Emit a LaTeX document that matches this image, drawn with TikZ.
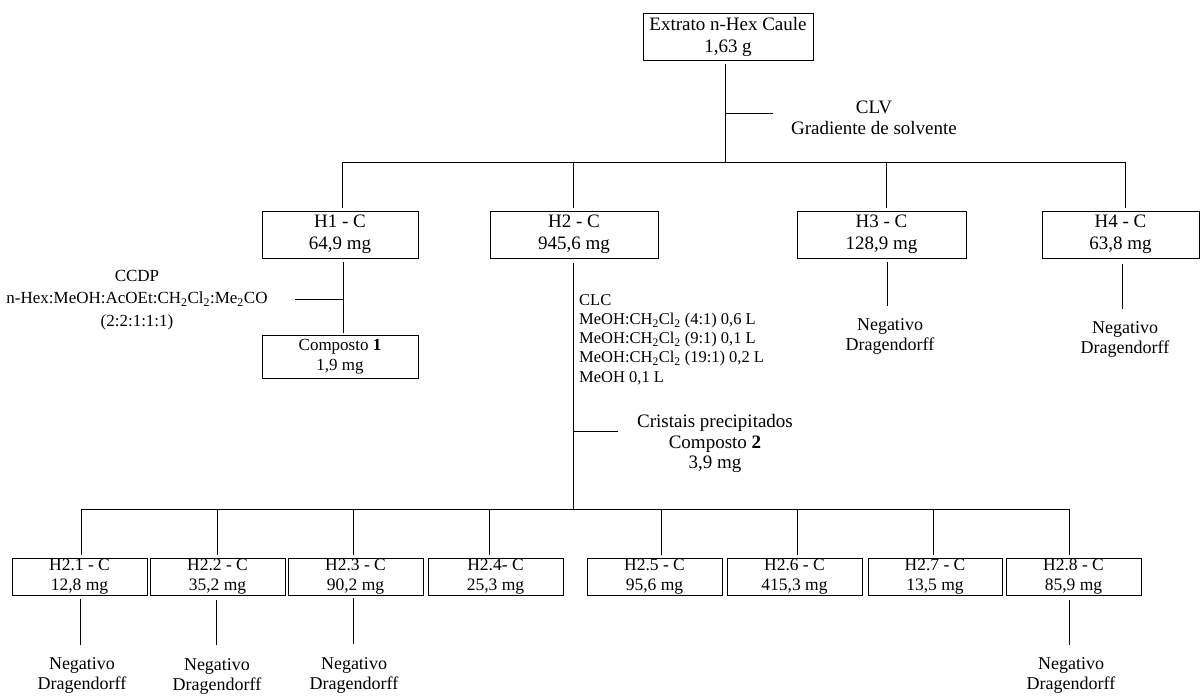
\documentclass[tikz,border=0pt]{standalone}
\usepackage{fontspec}
\setmainfont{Liberation Serif}
\begin{document}
\begin{tikzpicture}[x=1pt,y=-1pt,
  ln/.style={line width=1pt},
  box/.style={draw, line width=1pt, inner sep=0pt, align=center},
  topbox/.style={box, minimum height=47pt, font=\fontsize{19}{22}\selectfont},
  smallbox/.style={box, minimum width=135pt, minimum height=37pt, font=\fontsize{17.5}{20}\selectfont},
  lbl/.style={inner sep=0pt, align=center},
  neg/.style={lbl, font=\fontsize{18}{20}\selectfont}]
\useasboundingbox (0,0) rectangle (1200,696);

% top
\node[topbox, minimum width=170pt] (top) at (728,36.5) {Extrato n-Hex Caule\\1,63 g};
\coordinate (topA) at (725,64);
\coordinate (bar1) at (725,162);
\coordinate (clvT) at (773,113);
\coordinate (clvS) at (725,113);
\draw[ln] (topA) -- (bar1);
\draw[ln] (clvS) -- (clvT);
\node[lbl, font=\fontsize{19}{21.5}\selectfont] (clv) at (874,118) {CLV\\Gradiente de solvente};

% level 1
\node[topbox, minimum width=156pt] (h1) at (340,234.5) {H1 - C\\64,9 mg};
\node[topbox, minimum width=168pt] (h2) at (574,234.5) {H2 - C\\945,6 mg};
\node[topbox, minimum width=169pt] (h3) at (881.5,234.5) {H3 - C\\128,9 mg};
\node[topbox, minimum width=157pt] (h4) at (1120.5,234.5) {H4 - C\\63,8 mg};

\coordinate (b1L) at (342,162);
\coordinate (b1R) at (1125,162);
\draw[ln] (b1L) -- (b1R);
\coordinate (h1top) at (342,208);
\coordinate (h2top) at (573,162);
\coordinate (h2topE) at (573,208);
\coordinate (h3top) at (886,162);
\coordinate (h3topE) at (886,208);
\coordinate (h4topE) at (1125,208);
\draw[ln] (b1L) -- (h1top);
\draw[ln] (h2top) -- (h2topE);
\draw[ln] (h3top) -- (h3topE);
\draw[ln] (b1R) -- (h4topE);

% H1 branch
\node[box, minimum width=156pt, minimum height=43pt, font=\fontsize{17}{19.5}\selectfont] (c1) at (340,356.5) {Composto \textbf{1}\\1,9 mg};
\coordinate (h1a) at (343,262);
\coordinate (h1b) at (343,333);
\coordinate (h1t) at (343,299);
\coordinate (h1tL) at (295,299);
\draw[ln] (h1a) -- (h1b);
\draw[ln] (h1tL) -- (h1t);
\node[lbl, font=\fontsize{17}{22.5}\selectfont] (ccdp) at (137,300) {CCDP\\n-Hex:MeOH:AcOEt:CH\textsubscript{2}Cl\textsubscript{2}:Me\textsubscript{2}CO\\(2:2:1:1:1)};

% H2 branch
\coordinate (h2a) at (573,263);
\coordinate (bar2) at (573,509);
\draw[ln] (h2a) -- (bar2);
\node[lbl, anchor=west, align=left, font=\fontsize{16.5}{19.2}\selectfont] (clc) at (579,339.5) {CLC\\MeOH:CH\textsubscript{2}Cl\textsubscript{2} (4:1) 0,6 L\\MeOH:CH\textsubscript{2}Cl\textsubscript{2} (9:1) 0,1 L\\MeOH:CH\textsubscript{2}Cl\textsubscript{2} (19:1) 0,2 L\\MeOH 0,1 L};
\coordinate (crS) at (573,431);
\coordinate (crT) at (618,431);
\draw[ln] (crS) -- (crT);
\node[lbl, font=\fontsize{19}{20.5}\selectfont] (cris) at (715,443.5) {Cristais precipitados\\Composto \textbf{2}\\3,9 mg};

% H3, H4
\coordinate (h3a) at (887,262);
\coordinate (h3b) at (887,306);
\draw[ln] (h3a) -- (h3b);
\node[neg] (n3) at (890,336) {Negativo\\Dragendorff};
\coordinate (h4a) at (1122,264);
\coordinate (h4b) at (1122,309);
\draw[ln] (h4a) -- (h4b);
\node[neg] (n4) at (1125,339.5) {Negativo\\Dragendorff};

% level 2
\coordinate (b2L) at (81,509);
\coordinate (b2R) at (1069,509);
\draw[ln] (b2L) -- (b2R);
\node[smallbox] (s1) at (79.5,576.5) {H2.1 - C\\12,8 mg};
\node[smallbox] (s2) at (217.5,576.5) {H2.2 - C\\35,2 mg};
\node[smallbox] (s3) at (355.5,576.5) {H2.3 - C\\90,2 mg};
\node[smallbox] (s4) at (495.5,576.5) {H2.4- C\\25,3 mg};
\node[smallbox] (s5) at (654.5,576.5) {H2.5 - C\\95,6 mg};
\node[smallbox] (s6) at (794.5,576.5) {H2.6 - C\\415,3 mg};
\node[smallbox, minimum width=134pt] (s7) at (935,576.5) {H2.7 - C\\13,5 mg};
\node[smallbox] (s8) at (1073.5,576.5) {H2.8 - C\\85,9 mg};

\foreach \x in {81,217,353,489,661,797,933,1069}{
  \draw[ln] (\x,509) -- (\x,555);
}

\coordinate (d1a) at (80,599);  \coordinate (d1b) at (80,645);
\coordinate (d2a) at (216,600); \coordinate (d2b) at (216,645);
\coordinate (d3a) at (353,598); \coordinate (d3b) at (353,644);
\coordinate (d8a) at (1069,600); \coordinate (d8b) at (1069,645);
\draw[ln] (d1a) -- (d1b);
\draw[ln] (d2a) -- (d2b);
\draw[ln] (d3a) -- (d3b);
\draw[ln] (d8a) -- (d8b);
\node[neg] (m1) at (82,675.5) {Negativo\\Dragendorff};
\node[neg] (m2) at (217,676.5) {Negativo\\Dragendorff};
\node[neg] (m3) at (354,675.5) {Negativo\\Dragendorff};
\node[neg] (m8) at (1071,675) {Negativo\\Dragendorff};
\end{tikzpicture}
\end{document}
